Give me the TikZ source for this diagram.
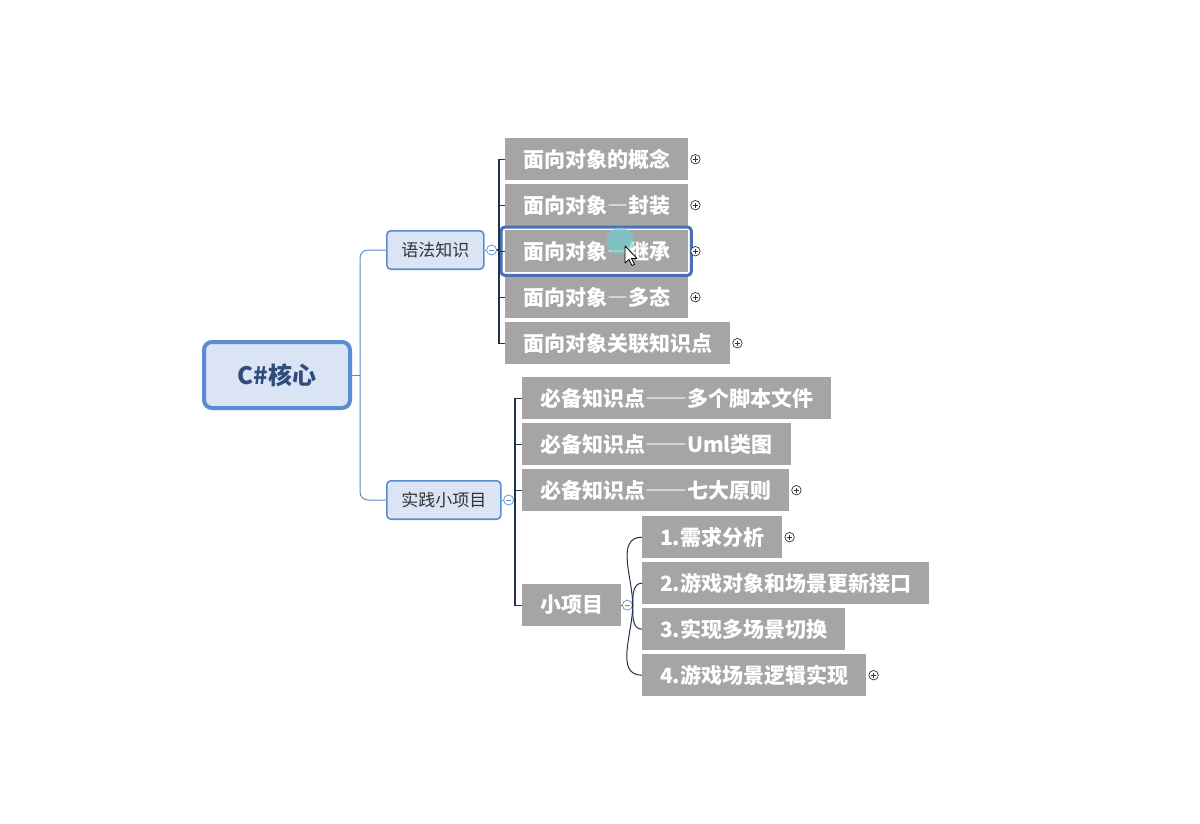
\documentclass[tikz,border=0pt]{standalone}
\usepackage{fontspec}
\newfontfamily\cjk{Noto Sans CJK SC}
\newcommand\fwDash[1]{{\addfontfeature{RawFeature=+fwid}#1}}
\usepackage{tikz}
\usetikzlibrary{shapes,arrows}
\usepackage{xcolor}
\definecolor{rootBlue}{HTML}{5B8BD0}
\definecolor{rootFill}{HTML}{DAE4F4}
\definecolor{rootText}{HTML}{2F4C7A}
\definecolor{mainText}{HTML}{333333}
\definecolor{topicGray}{HTML}{A5A5A5}
\definecolor{lineDark}{HTML}{22324A}
\definecolor{selectBlue}{HTML}{4A6FB8}
\definecolor{haloTeal}{HTML}{72D0D2}

\begin{document}
\begin{tikzpicture}[
  x=1pt,y=1pt,
  font=\cjk,
  every matrix/.style={ampersand replacement=\&,row sep=4pt,inner sep=0pt,anchor=north west,nodes={anchor=west}},
  rootTopic/.style={draw=rootBlue,line width=4pt,rounded corners=8pt,fill=rootFill,text=rootText,minimum width=146pt,minimum height=66pt,font=\cjk\bfseries\fontsize{24}{28}\selectfont},
  mainTopic/.style={draw=rootBlue,line width=1.6pt,rounded corners=4pt,fill=rootFill,text=mainText,inner xsep=14.5pt,minimum height=38.4pt,anchor=west,font=\cjk\fontsize{17}{20}\selectfont},
  subTopic/.style={fill=topicGray,text=white,inner xsep=18pt,minimum height=42pt,font=\cjk\bfseries\fontsize{21}{25}\selectfont},
  collapseMark/.style={draw=rootBlue,fill=white,circle,inner sep=0pt,minimum size=10pt,line width=.7pt,
    path picture={\draw[rootBlue,line width=.7pt] ([xshift=-2.8pt]path picture bounding box.center) -- ([xshift=2.8pt]path picture bounding box.center);}},
  expandMark/.style={draw=mainText,fill=white,circle,inner sep=0pt,minimum size=9.5pt,line width=.7pt,
    path picture={\draw[mainText,line width=.8pt] ([xshift=-2.7pt]path picture bounding box.center) -- ([xshift=2.7pt]path picture bounding box.center)
      ([yshift=-2.7pt]path picture bounding box.center) -- ([yshift=2.7pt]path picture bounding box.center);}},
  rootToMain/.style={draw=rootBlue,line width=1pt,rounded corners=8pt},
  mainToSub/.style={draw=lineDark,line width=1.2pt},
  selected/.style={draw=selectBlue,line width=3pt,rounded corners=4pt}]

  % page
  \fill[white] (0,0) rectangle (1200,-824);
  \useasboundingbox (0,0) rectangle (1200,-824);

  % central and main topics
  \node[rootTopic] (root) at (277,-375) {C\#核心};
  \node[mainTopic] (syntax) at (386,-250) {语法知识};
  \node[mainTopic] (practice) at (386,-500) {实践小项目};

  % sub topics, one column each
  \matrix (synList) at (505,-138) {
    \node[subTopic] (syn1) {面向对象的概念}; \\
    \node[subTopic] (syn2) {面向对象\fwDash{—}封装}; \\
    \node[subTopic] (syn3) {面向对象\fwDash{—}继承}; \\
    \node[subTopic] (syn4) {面向对象\fwDash{—}多态}; \\
    \node[subTopic] (syn5) {面向对象关联知识点}; \\
  };
  \matrix (praList) at (522,-377) {
    \node[subTopic] (pra1) {必备知识点\fwDash{——}多个脚本文件}; \\
    \node[subTopic] (pra2) {必备知识点\fwDash{——}Uml类图}; \\
    \node[subTopic] (pra3) {必备知识点\fwDash{——}七大原则}; \\[69pt]
    \node[subTopic] (pra4) {小项目}; \\
  };
  \matrix (proList) at (642,-516) {
    \node[subTopic] (pro1) {1.需求分析}; \\
    \node[subTopic] (pro2) {2.游戏对象和场景更新接口}; \\
    \node[subTopic] (pro3) {3.实现多场景切换}; \\
    \node[subTopic] (pro4) {4.游戏场景逻辑实现}; \\
  };

  % selection frame
  \draw[selected] ([shift={(-4,3)}]syn3.north west) rectangle ([shift={(3,-3)}]syn3.south east);

  % collapse marks
  \node[collapseMark] (synMark) at ([xshift=7pt]syntax.east) {};
  \node[collapseMark] (praMark) at ([xshift=7pt]practice.east) {};
  \node[collapseMark] (proMark) at ([xshift=6pt]pra4.east) {};

  % expand marks
  \node[expandMark] (syn1Plus) at ([xshift=7pt]syn1.east) {};
  \node[expandMark] (syn2Plus) at ([xshift=7pt]syn2.east) {};
  \node[expandMark] (syn3Plus) at ([xshift=7pt]syn3.east) {};
  \node[expandMark] (syn4Plus) at ([xshift=7pt]syn4.east) {};
  \node[expandMark] (syn5Plus) at ([xshift=7pt]syn5.east) {};
  \node[expandMark] (pra3Plus) at ([xshift=7pt]pra3.east) {};
  \node[expandMark] (pro1Plus) at ([xshift=7pt]pro1.east) {};
  \node[expandMark] (pro4Plus) at ([xshift=7pt]pro4.east) {};

  % root to main topics
  \draw[rootToMain] (root.east) -- ++(8,0) coordinate (rootJoint);
  \draw[rootToMain] (rootJoint) |- (syntax.west);
  \draw[rootToMain] (rootJoint) |- (practice.west);
  \draw[rootToMain] (syntax.east) -- (synMark.west);
  \draw[rootToMain] (practice.east) -- (praMark.west);

  % main topics to sub topics
  \draw[mainToSub] (synMark.east) -- ++(2,0) coordinate (synJoint);
  \draw[mainToSub] (synJoint) |- (syn1.west);
  \draw[mainToSub] (synJoint) |- (syn2.west);
  \draw[mainToSub] (synJoint) |- (syn3.west);
  \draw[mainToSub] (synJoint) |- (syn4.west);
  \draw[mainToSub] (synJoint) |- (syn5.west);

  \draw[mainToSub] (praMark.east) -- ++(1,0) coordinate (praJoint);
  \draw[mainToSub] (praJoint) |- (pra1.west);
  \draw[mainToSub] (praJoint) |- (pra2.west);
  \draw[mainToSub] (praJoint) |- (pra3.west);
  \draw[mainToSub] (praJoint) |- (pra4.west);
  \draw[mainToSub] (pra4.east) -- (proMark.west);

  % small project to its steps
  \draw[mainToSub,line width=1pt] (proMark.east) to[out=90,in=180] (pro1.west);
  \draw[mainToSub,line width=1pt] (proMark.east) to[out=90,in=180] (pro2.west);
  \draw[mainToSub,line width=1pt] (proMark.east) to[out=-90,in=180] (pro3.west);
  \draw[mainToSub,line width=1pt] (proMark.east) to[out=-90,in=180] (pro4.west);

  % pointer
  \fill[haloTeal,opacity=.65] (620,-241) circle (13.5pt);
  \filldraw[fill=white,draw=black,line width=.8pt,line join=round]
    (625,-246) -- ++(0,-17) -- ++(4,3.5) -- ++(3,-6) -- ++(2.5,1) -- ++(-3,6) -- ++(5.5,0) -- cycle;
\end{tikzpicture}
\end{document}
